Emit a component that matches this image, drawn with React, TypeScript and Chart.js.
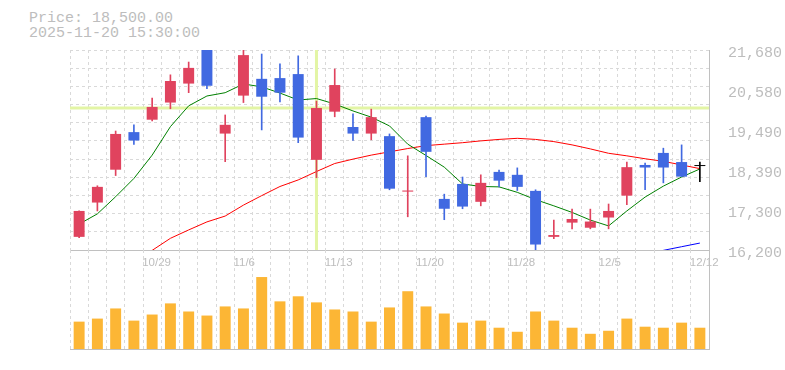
import React, { useEffect, useRef } from 'react';
import { Chart, registerables } from 'chart.js';

Chart.register(...registerables);

// ---- data ----
const DATES = [
  '10/23', '10/24', '10/27', '10/28', '10/29', '10/30', '10/31', '11/4', '11/5', '11/6',
  '11/7', '11/10', '11/11', '11/12', '11/13', '11/14', '11/17', '11/18', '11/19', '11/20',
  '11/21', '11/25', '11/26', '11/27', '11/28', '12/1', '12/2', '12/3', '12/4', '12/5',
  '12/8', '12/9', '12/10', '12/11', '12/12',
];
const OPEN = [
  16560, 17500, 18400, 19430, 19770, 20240, 20760, 21680, 19390, 20430,
  20890, 20910, 21020, 18670, 19990, 19570, 19390, 19320, 17800, 19840,
  17600, 18010, 17520, 18340, 18260, 17820, 16560, 16950, 16810, 17090,
  17690, 18530, 18860, 18610, 18500,
];
const HIGH = [
  17270, 17960, 19460, 19630, 20360, 21000, 21350, 21680, 19900, 21680,
  21570, 21300, 21520, 20280, 21160, 19930, 20060, 19380, 18780, 19870,
  17730, 18200, 18260, 18390, 18450, 17850, 17020, 17320, 17320, 17460,
  18610, 18580, 18990, 19080, 18610,
];
const LOW = [
  16540, 17270, 18240, 19090, 19740, 20070, 20510, 20620, 18620, 20240,
  19490, 20260, 19140, 18180, 19850, 19200, 19220, 17850, 17110, 18210,
  17030, 17330, 17410, 17930, 17830, 16180, 16510, 16780, 16780, 16780,
  17440, 17850, 18040, 18210, 18070,
];
const CLOSE = [
  17270, 17930, 19380, 19200, 20120, 20830, 21190, 20700, 19630, 21540,
  20400, 20510, 19280, 20090, 20720, 19390, 19840, 17880, 17830, 18890,
  17330, 17390, 18040, 18100, 17930, 16350, 16610, 17050, 16980, 17270,
  18470, 18460, 18460, 18210, 18500,
];
const MA_SHORT = [
  16910, 17190, 17660, 18160, 18800, 19580, 20150, 20420, 20510, 20750,
  20670, 20500, 20310, 20350, 20200, 20010, 19840, 19600, 19100, 18790,
  18470, 18010, 17940, 17930, 17780, 17580, 17410, 17230, 17020, 16860,
  17270, 17650, 17950, 18200, 18420,
];
const MA_MID = [
  null, null, null, 15950, 16190, 16520, 16750, 16970, 17130, 17430,
  17690, 17940, 18120, 18350, 18570, 18690, 18800, 18890, 18980, 19060,
  19100, 19140, 19190, 19230, 19260, 19230, 19170, 19080, 18970, 18850,
  18780, 18700, 18630, 18530, 18430,
];
const MA_LONG = [
  null, null, null, null, null, null, null, null, null, null,
  null, null, null, null, null, null, null, null, null, null,
  null, null, null, null, null, null, null, null, null, null,
  null, 16090, 16190, 16290, 16390,
];
const VOLUME = [
  8100, 9000, 12000, 8400, 10200, 13500, 11100, 9900, 12600, 12000,
  21300, 14100, 15600, 13800, 11700, 11100, 8100, 12300, 17100, 12600,
  10500, 7800, 8400, 6300, 5100, 11100, 8400, 6300, 4500, 5400,
  9000, 6600, 6300, 7800, 6300,
];
const PRICE_TICKS = [16200, 17300, 18390, 19490, 20580, 21680];
const CROSS_INDEX = 13;
const HEADER_PRICE = 'Price: 18,500.00';
const HEADER_TIME = '2025-11-20 15:30:00';

// ---- styles ----
const UP = '#e0435e';
const DOWN = '#4169e1';
const FLAT = '#000000';
const GRID = '#d9d9d9';
const AXIS = '#c0c0c0';
const TEXT = '#bdbdbd';
const CROSS = '#e3f5a5';
const VOL = '#fcb635';

const candleColor = (i: number) =>
  CLOSE[i] > OPEN[i] ? UP : CLOSE[i] < OPEN[i] ? DOWN : FLAT;

const crosshairPlugin = {
  id: 'crosshair',
  beforeDatasetsDraw(chart: any) {
    const { ctx, chartArea, scales } = chart;
    const x = scales.x.getPixelForValue(CROSS_INDEX);
    const y = scales.y.getPixelForValue(CLOSE[CROSS_INDEX]);
    ctx.save();
    ctx.strokeStyle = CROSS;
    ctx.lineWidth = 3;
    ctx.beginPath();
    ctx.moveTo(x, chartArea.top);
    ctx.lineTo(x, chartArea.bottom);
    ctx.moveTo(chartArea.left, y);
    ctx.lineTo(chartArea.right, y);
    ctx.stroke();
    ctx.restore();
  },
};

export default function App() {
  const priceRef = useRef<HTMLCanvasElement>(null);
  const volRef = useRef<HTMLCanvasElement>(null);

  useEffect(() => {
    const colors = DATES.map((_, i) => candleColor(i));
    const price = new Chart(priceRef.current as HTMLCanvasElement, {
      type: 'bar',
      data: {
        labels: DATES,
        datasets: [
          {
            type: 'bar',
            label: 'body',
            data: OPEN.map((o, i) => [o, CLOSE[i]]) as any,
            backgroundColor: colors,
            borderWidth: 0,
            grouped: false,
            barPercentage: 0.6,
            categoryPercentage: 1,
            minBarLength: 1,
            order: 0,
            yAxisID: 'y',
          } as any,
          {
            type: 'bar',
            label: 'wick',
            data: LOW.map((l, i) => [l, HIGH[i]]) as any,
            backgroundColor: colors,
            borderWidth: 0,
            grouped: false,
            barThickness: 1,
            order: 1,
            yAxisID: 'y',
          } as any,
          {
            type: 'line',
            label: 'MA5',
            data: MA_SHORT,
            borderColor: '#008000',
            borderWidth: 1,
            pointRadius: 0,
            tension: 0,
            order: 2,
            yAxisID: 'y',
          } as any,
          {
            type: 'line',
            label: 'MA25',
            data: MA_MID,
            borderColor: '#ff0000',
            borderWidth: 1,
            pointRadius: 0,
            tension: 0,
            order: 3,
            yAxisID: 'y',
          } as any,
          {
            type: 'line',
            label: 'MA75',
            data: MA_LONG,
            borderColor: '#0000ff',
            borderWidth: 1,
            pointRadius: 0,
            tension: 0,
            order: 4,
            yAxisID: 'y',
          } as any,
        ],
      },
      options: {
        animation: false,
        responsive: false,
        events: [],
        layout: { padding: { left: 70, top: 50, right: 0, bottom: 0 } },
        plugins: { legend: { display: false }, tooltip: { enabled: false } },
        scales: {
          x: {
            type: 'category',
            offset: true,
            grid: { offset: true, color: GRID, drawTicks: false },
            border: { display: true, color: AXIS, dash: [3, 3] },
            ticks: {
              autoSkip: false,
              maxRotation: 0,
              minRotation: 0,
              align: 'start',
              labelOffset: -10,
              padding: 6,
              color: TEXT,
              font: { family: 'Liberation Sans', size: 11.5 },
              callback: (_v: any, i: number) =>
                (DATES.length - 1 - i) % 5 === 0 ? DATES[i] : '',
            },
            afterFit: (s: any) => {
              s.height = 25;
            },
          },
          gy: {
            type: 'linear',
            position: 'left',
            min: 0,
            max: 11,
            ticks: { display: false, stepSize: 1 },
            grid: { color: GRID, drawTicks: false },
            border: { display: false, dash: [3, 3] },
            afterFit: (s: any) => {
              s.width = 0;
            },
          },
          y: {
            type: 'linear',
            position: 'right',
            min: 16200,
            max: 21680,
            grid: { display: false },
            border: { display: true, color: AXIS },
            ticks: {
              padding: 11,
              labelOffset: 3,
              color: TEXT,
              font: { family: 'Liberation Mono', size: 15 },
              callback: (v: any) => Number(v).toLocaleString('en-US'),
            },
            afterBuildTicks: (s: any) => {
              s.ticks = PRICE_TICKS.map((v) => ({ value: v }));
            },
            afterFit: (s: any) => {
              s.width = 76;
            },
          },
        } as any,
      },
      plugins: [crosshairPlugin],
    } as any);

    const volume = new Chart(volRef.current as HTMLCanvasElement, {
      type: 'bar',
      data: {
        labels: DATES,
        datasets: [
          {
            label: 'volume',
            data: VOLUME,
            backgroundColor: VOL,
            borderWidth: 0,
            barPercentage: 0.6,
            categoryPercentage: 1,
          },
        ],
      },
      options: {
        animation: false,
        responsive: false,
        events: [],
        layout: { padding: { left: 70, top: 0, right: 0, bottom: 5 } },
        plugins: { legend: { display: false }, tooltip: { enabled: false } },
        scales: {
          x: {
            type: 'category',
            offset: true,
            grid: { offset: true, color: GRID, drawTicks: false },
            border: { display: true, color: AXIS, dash: [3, 3] },
            ticks: { display: false },
            afterFit: (s: any) => {
              s.height = 0;
            },
          },
          y: {
            type: 'linear',
            position: 'right',
            min: 0,
            max: 29300,
            grid: { display: false },
            border: { display: true, color: AXIS },
            ticks: { display: false },
            afterFit: (s: any) => {
              s.width = 76;
            },
          },
        } as any,
      },
    } as any);

    return () => {
      price.destroy();
      volume.destroy();
    };
  }, []);

  const headerStyle: React.CSSProperties = {
    position: 'absolute',
    left: 29,
    fontFamily: "'Liberation Mono', monospace",
    fontSize: 15,
    lineHeight: '15px',
    color: TEXT,
    whiteSpace: 'pre',
    margin: 0,
  };

  return (
    <div
      style={{
        position: 'absolute',
        left: 0,
        top: 0,
        width: 785,
        height: 370,
        background: '#ffffff',
        overflow: 'hidden',
      }}
    >
      <div style={{ ...headerStyle, top: 11 }}>{HEADER_PRICE}</div>
      <div style={{ ...headerStyle, top: 26 }}>{HEADER_TIME}</div>
      <canvas
        ref={priceRef}
        width={785}
        height={275}
        style={{ position: 'absolute', left: 0, top: 0, display: 'block' }}
      />
      <canvas
        ref={volRef}
        width={785}
        height={104}
        style={{ position: 'absolute', left: 0, top: 250, display: 'block' }}
      />
    </div>
  );
}
